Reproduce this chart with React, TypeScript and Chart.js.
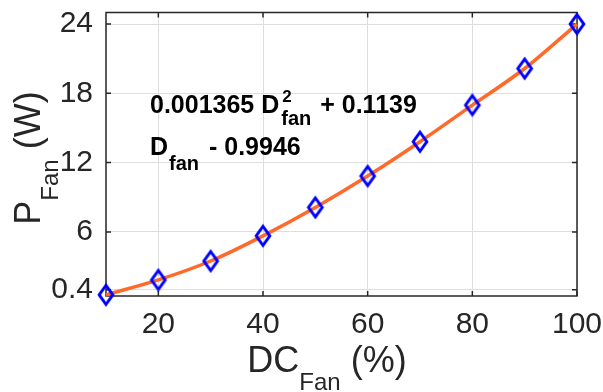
import React, { useEffect, useRef } from 'react';
import { Chart, registerables } from 'chart.js';

Chart.register(...registerables);

const dutyCycle = [10, 20, 30, 40, 50, 60, 70, 80, 90, 100];
const fanPower = [0.55, 1.84, 3.48, 5.66, 8.12, 10.84, 13.81, 16.98, 20.15, 24.0];
const xTickValues = [20, 40, 60, 80, 100];
const xTickLabels = ['20', '40', '60', '80', '100'];
const yTickValues = [1, 6, 12, 18, 24];
const yTickLabels = ['0.4', '6', '12', '18', '24'];
const xTitle = ['DC', 'Fan', ' (%)'];
const yTitle = ['P', 'Fan', ' (W)'];
const eqLine1 = ['0.001365 D', '2', 'fan', ' + 0.1139'];
const eqLine2 = ['D', 'fan', ' - 0.9946'];

const FONT = '"Liberation Sans", Arial, Helvetica, sans-serif';
const AX = '#262626';
const GRID = '#dedede';
const LINE = '#ff6a2a';
const MARK = '#0000ff';

function makeDiamond(): HTMLCanvasElement {
  const hw = 6.8, hh = 9.5, lw = 3, pad = 5;
  const c = document.createElement('canvas');
  c.width = Math.round(2 * (hw + pad));
  c.height = Math.round(2 * (hh + pad));
  const g = c.getContext('2d')!;
  const cx = c.width / 2, cy = c.height / 2;
  g.strokeStyle = MARK;
  g.lineWidth = lw;
  g.lineJoin = 'miter';
  g.beginPath();
  g.moveTo(cx, cy - hh);
  g.lineTo(cx + hw, cy);
  g.lineTo(cx, cy + hh);
  g.lineTo(cx - hw, cy);
  g.closePath();
  g.stroke();
  return c;
}

function font(size: number, bold = false) {
  return `${bold ? 'bold ' : ''}${size}px ${FONT}`;
}

const framePlugin = {
  id: 'frame',
  beforeDatasetsDraw(chart: any) {
    const { ctx, chartArea: a, scales } = chart;
    ctx.save();
    ctx.strokeStyle = AX;
    ctx.lineWidth = 1.5;
    ctx.strokeRect(a.left, a.top, a.right - a.left, a.bottom - a.top);
    const tl = 5;
    ctx.beginPath();
    for (const v of xTickValues) {
      const x = scales.x.getPixelForValue(v);
      ctx.moveTo(x, a.bottom);
      ctx.lineTo(x, a.bottom - tl);
      ctx.moveTo(x, a.top);
      ctx.lineTo(x, a.top + tl);
    }
    for (const v of yTickValues) {
      const y = scales.y.getPixelForValue(v);
      ctx.moveTo(a.left, y);
      ctx.lineTo(a.left + tl, y);
      ctx.moveTo(a.right, y);
      ctx.lineTo(a.right - tl, y);
    }
    ctx.stroke();
    ctx.restore();
  },
  afterDraw(chart: any) {
    const { ctx, chartArea: a } = chart;
    ctx.save();
    ctx.textBaseline = 'alphabetic';
    ctx.textAlign = 'left';

    // X title
    ctx.fillStyle = AX;
    const big = 36, sub = 24;
    ctx.font = font(big);
    const w0 = ctx.measureText(xTitle[0]).width;
    const w2 = ctx.measureText(xTitle[2]).width;
    ctx.font = font(sub);
    const w1 = ctx.measureText(xTitle[1]).width;
    const xTot = w0 + w1 + w2;
    let x = 327 - xTot / 2;
    const xb = a.bottom + 76;
    ctx.font = font(big);
    ctx.fillText(xTitle[0], x, xb);
    x += w0;
    ctx.font = font(sub);
    ctx.fillText(xTitle[1], x, xb + 18);
    x += w1;
    ctx.font = font(big);
    ctx.fillText(xTitle[2], x, xb);

    // Y title (rotated)
    ctx.font = font(big);
    const v0 = ctx.measureText(yTitle[0]).width;
    const v2 = ctx.measureText(yTitle[2]).width;
    ctx.font = font(sub);
    const v1 = ctx.measureText(yTitle[1]).width;
    const yTot = v0 + v1 + v2;
    ctx.save();
    ctx.translate(40, 158 + yTot / 2);
    ctx.rotate(-Math.PI / 2);
    let t = 0;
    ctx.font = font(big);
    ctx.fillText(yTitle[0], t, 0);
    t += v0;
    ctx.font = font(sub);
    ctx.fillText(yTitle[1], t, 18);
    t += v1;
    ctx.font = font(big);
    ctx.fillText(yTitle[2], t, 0);
    ctx.restore();

    // Equation
    ctx.fillStyle = '#000000';
    const eq = 25, eqSup = 17, eqSub = 20;
    let ex = 150;
    const b1 = 113;
    ctx.font = font(eq, true);
    ctx.fillText(eqLine1[0], ex, b1);
    ex += ctx.measureText(eqLine1[0]).width + 2;
    ctx.font = font(eqSup, true);
    const sw = ctx.measureText(eqLine1[1]).width;
    ctx.fillText(eqLine1[1], ex + 1, b1 - 11);
    ctx.font = font(eqSub, true);
    const fw = ctx.measureText(eqLine1[2]).width;
    ctx.fillText(eqLine1[2], ex, b1 + 12);
    ex += Math.max(sw, fw) + 2;
    ctx.font = font(eq, true);
    ctx.fillText(eqLine1[3], ex, b1);

    const b2 = 155;
    ex = 150;
    ctx.font = font(eq, true);
    ctx.fillText(eqLine2[0], ex, b2);
    ex += ctx.measureText(eqLine2[0]).width + 1;
    ctx.font = font(eqSub, true);
    ctx.fillText(eqLine2[1], ex, b2 + 15);
    ex += ctx.measureText(eqLine2[1]).width + 3;
    ctx.font = font(eq, true);
    ctx.fillText(eqLine2[2], ex, b2);

    ctx.restore();
  },
};

function zeroPad(s: any) {
  s.paddingTop = 0;
  s.paddingBottom = 0;
  s.paddingLeft = 0;
  s.paddingRight = 0;
}

export default function App() {
  const ref = useRef<HTMLCanvasElement | null>(null);

  useEffect(() => {
    if (!ref.current) return;
    const diamond = makeDiamond();
    const chart = new Chart(ref.current, {
      type: 'line',
      data: {
        datasets: [
          {
            data: dutyCycle.map((d, i) => ({ x: d, y: fanPower[i] })),
            borderColor: LINE,
            borderWidth: 3.5,
            cubicInterpolationMode: 'monotone',
            pointStyle: diamond as any,
            pointRadius: 9,
            fill: false,
            clip: false,
          },
        ],
      },
      options: {
        responsive: false,
        animation: false,
        devicePixelRatio: 1,
        layout: { padding: { top: 7, right: 26, left: 0, bottom: 0 } },
        plugins: { legend: { display: false }, tooltip: { enabled: false } },
        scales: {
          x: {
            type: 'linear',
            min: 10,
            max: 100,
            afterBuildTicks: (s: any) => {
              s.ticks = xTickValues.map((v) => ({ value: v }));
            },
            afterFit: (s: any) => {
              s.height = 96;
              zeroPad(s);
            },
            ticks: {
              callback: (_v: any, i: number) => xTickLabels[i],
              font: { family: FONT, size: 30 },
              color: AX,
              padding: 11,
              maxRotation: 0,
              autoSkip: false,
            },
            grid: { color: GRID, lineWidth: 1, drawTicks: false },
            border: { display: false },
          },
          y: {
            type: 'linear',
            min: 0.45,
            max: 25,
            afterBuildTicks: (s: any) => {
              s.ticks = yTickValues.map((v) => ({ value: v }));
            },
            afterFit: (s: any) => {
              s.width = 106;
              zeroPad(s);
            },
            ticks: {
              callback: (_v: any, i: number) => yTickLabels[i],
              font: { family: FONT, size: 30 },
              color: AX,
              padding: 13,
              autoSkip: false,
            },
            grid: { color: GRID, lineWidth: 1, drawTicks: false },
            border: { display: false },
          },
        },
      },
      plugins: [framePlugin],
    } as any);
    return () => chart.destroy();
  }, []);

  return (
    <div style={{ position: 'absolute', left: 0, top: 0, width: 603, height: 392, background: '#fff' }}>
      <canvas ref={ref} width={603} height={392} />
    </div>
  );
}
